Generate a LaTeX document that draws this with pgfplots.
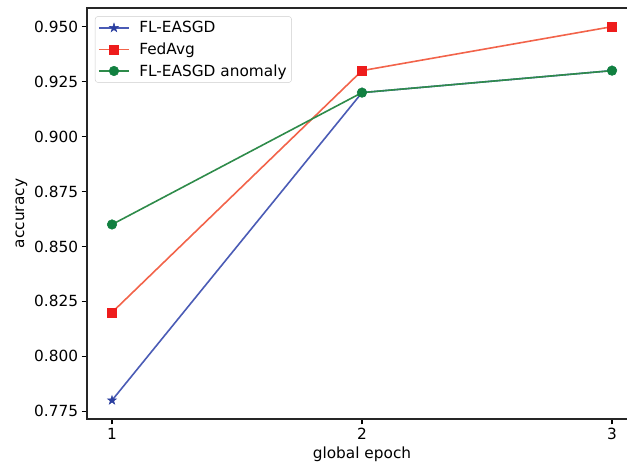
\documentclass[border=0pt]{standalone}
\usepackage{fontspec}
\setmainfont{DejaVu Sans}
\usepackage{pgfplots}
\pgfplotsset{compat=1.18}

\definecolor{cblue}{HTML}{4A5BB5}
\definecolor{cbluem}{HTML}{2B3FA0}
\definecolor{cred}{HTML}{F2634A}
\definecolor{credm}{HTML}{EE1C1C}
\definecolor{cgreen}{HTML}{2E8B4A}
\definecolor{cgreenm}{HTML}{118040}

% filled five-pointed star, like matplotlib's '*'
\pgfdeclareplotmark{fstar}{%
  \pgfpathmoveto{\pgfpointpolar{90}{\pgfplotmarksize}}%
  \pgfpathlineto{\pgfpointpolar{126}{0.382\pgfplotmarksize}}%
  \pgfpathlineto{\pgfpointpolar{162}{\pgfplotmarksize}}%
  \pgfpathlineto{\pgfpointpolar{198}{0.382\pgfplotmarksize}}%
  \pgfpathlineto{\pgfpointpolar{234}{\pgfplotmarksize}}%
  \pgfpathlineto{\pgfpointpolar{270}{0.382\pgfplotmarksize}}%
  \pgfpathlineto{\pgfpointpolar{306}{\pgfplotmarksize}}%
  \pgfpathlineto{\pgfpointpolar{342}{0.382\pgfplotmarksize}}%
  \pgfpathlineto{\pgfpointpolar{18}{\pgfplotmarksize}}%
  \pgfpathlineto{\pgfpointpolar{54}{0.382\pgfplotmarksize}}%
  \pgfpathclose
  \pgfusepathqfillstroke}

\begin{document}
\begin{tikzpicture}
\begin{axis}[
    scale only axis,
    width=550bp, height=411bp,
    xmin=0.9, xmax=3.1,
    ymin=0.7715, ymax=0.9585,
    xtick={1,2,3},
    ytick={0.775,0.800,0.825,0.850,0.875,0.900,0.925,0.950},
    yticklabel style={/pgf/number format/.cd, fixed, fixed zerofill, precision=3},
    /pgf/number format/assume math mode=true,
    xtick pos=bottom, ytick pos=left,
    tick align=outside,
    major tick length=5.4bp,
    tick style={black, line width=1.2bp},
    axis line style={black!85, line width=1.2bp},
    font=\fontsize{15.4}{18.5}\selectfont,
    xlabel={global epoch},
    ylabel={accuracy},
    legend cell align=left,
    legend style={at={(0.0145,0.98)}, anchor=north west,
        draw=black!20, rounded corners=3bp, fill=white,
        row sep=4.5bp, column sep=7.5bp, inner sep=3bp},
    legend image code/.code={\draw[mark repeat=2,mark phase=2] plot coordinates {(0bp,0bp) (15bp,0bp) (30bp,0bp)};},
]

% FL-EASGD
\addplot[cblue, line width=1.6bp, mark=fstar, mark size=4.7bp,
    mark options={draw=cbluem, fill=cbluem, line width=0.5bp}]
coordinates {(1,0.78) (2,0.92) (3,0.93)};
\addlegendentry{FL-EASGD}

% FedAvg
\addplot[cred, line width=1.6bp, mark=square*, mark size=4.4bp,
    mark options={draw=credm, fill=credm, line width=0.5bp}]
coordinates {(1,0.82) (2,0.93) (3,0.95)};
\addlegendentry{FedAvg}

% FL-EASGD anomaly
\addplot[cgreen, line width=1.6bp, mark=*, mark size=4.8bp,
    mark options={draw=cgreenm, fill=cgreenm, line width=0.5bp}]
coordinates {(1,0.86) (2,0.92) (3,0.93)};
\addlegendentry{FL-EASGD anomaly}

\end{axis}
\pgfresetboundingbox
\useasboundingbox ([shift={(-87bp,-49bp)}]current axis.south west) rectangle ++(627bp,468bp);
\end{tikzpicture}
\end{document}
